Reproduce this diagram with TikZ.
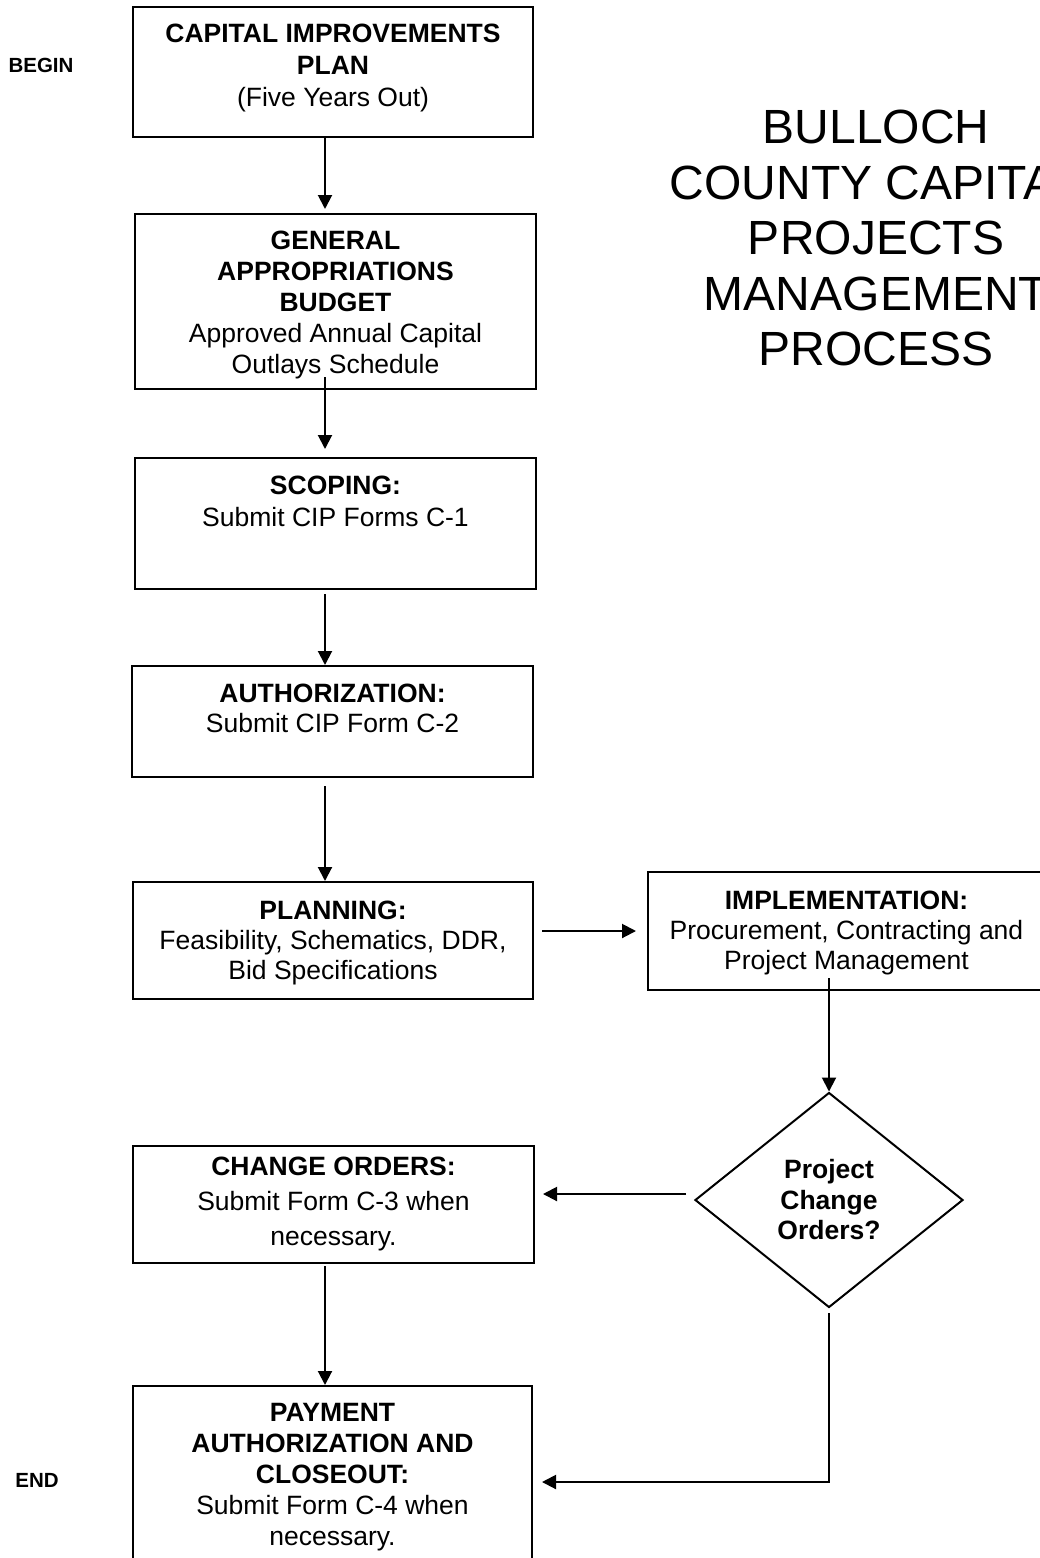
\documentclass[tikz,border=0pt]{standalone}
\usepackage{fontspec}
\setmainfont{Liberation Sans}
\usetikzlibrary{arrows.meta,shapes.geometric}
\newcommand\bodyfnt[1]{\fontsize{26.5}{#1}\selectfont}
\begin{document}
\begin{tikzpicture}[x=1pt,y=-1pt,
  box/.style={draw, line width=2pt, inner sep=0pt},
  txt/.style={align=center, inner sep=0pt, anchor=north},
  arr/.style={line width=2pt, -{Triangle[length=14pt,width=14pt]}},
  side/.style={font=\fontsize{20.5}{24}\selectfont\bfseries, inner sep=0pt}]
\useasboundingbox[fill=white] (0,0) rectangle (1039,1558);

% labels
\node[side] (begin) at (41,65) {BEGIN};
\node[side] (end) at (37,1480) {END};

% title
\node[txt, font=\fontsize{48}{55.5}\selectfont] (title) at (876,110)
  {BULLOCH\\COUNTY CAPITAL\\PROJECTS\\MANAGEMENT\\PROCESS};

% boxes
\node[box, minimum width=400pt, minimum height=130pt] (b1) at (333,72) {};
\node[box, minimum width=401pt, minimum height=175pt] (b2) at (335.5,301.5) {};
\node[box, minimum width=401pt, minimum height=131pt] (b3) at (335.5,523.5) {};
\node[box, minimum width=401pt, minimum height=111pt] (b4) at (332.5,721.5) {};
\node[box, minimum width=400pt, minimum height=117pt] (b5) at (333,940.5) {};
\node[box, minimum width=402pt, minimum height=118pt] (b6) at (849,931) {};
\node[box, minimum width=401pt, minimum height=117pt] (b7) at (333.5,1204.5) {};
\node[box, minimum width=399pt, minimum height=234pt] (b8) at (332.5,1503) {};
\node[box, diamond, minimum width=268pt, minimum height=215pt,
      font=\bodyfnt{30.5}\bfseries, align=center] (dia) at (829,1200)
  {Project\\Change\\Orders?};

% texts
\node[txt, font=\bodyfnt{32}] (t1) at (333,23.5)
  {\textbf{CAPITAL IMPROVEMENTS}\\\textbf{PLAN}\\(Five Years Out)};
\node[txt, font=\bodyfnt{31}] (t2) at (335.5,230.5)
  {\textbf{GENERAL}\\\textbf{APPROPRIATIONS}\\\textbf{BUDGET}\\Approved Annual Capital\\Outlays Schedule};
\node[txt, font=\bodyfnt{32}] (t3) at (335.5,475.5)
  {\textbf{SCOPING:}\\Submit CIP Forms C-1};
\node[txt, font=\bodyfnt{30.5}] (t4) at (332.5,683.5)
  {\textbf{AUTHORIZATION:}\\Submit CIP Form C-2};
\node[txt, font=\bodyfnt{30}] (t5) at (333,900.5)
  {\textbf{PLANNING:}\\Feasibility, Schematics, DDR,\\Bid Specifications};
\node[txt, font=\bodyfnt{30}] (t6) at (846.5,890.5)
  {\textbf{IMPLEMENTATION:}\\Procurement, Contracting and\\Project Management};
\node[txt, font=\bodyfnt{35}] (t7) at (333.5,1156.5)
  {\textbf{CHANGE ORDERS:}\\Submit Form C-3 when\\necessary.};
\node[txt, font=\bodyfnt{31}] (t8) at (332.5,1403.5)
  {\textbf{PAYMENT}\\\textbf{AUTHORIZATION AND}\\\textbf{CLOSEOUT:}\\Submit Form C-4 when\\necessary.};

% connector helper coordinates
\coordinate (col) at (325,0);
\coordinate (a2s) at (325,377);
\coordinate (a5y) at (0,931);
\coordinate (a6s) at (829,978);
\coordinate (a7s) at (686,1194);
\coordinate (a9s) at (829,1313);
\coordinate (a9c) at (829,1482);

% connectors
\draw[arr, shorten >=4pt] (b1.south -| col) -- (b2.north -| col);
\draw[arr, shorten >=8pt] (a2s) -- (b3.north -| col);
\draw[arr, shorten <=4pt] (b3.south -| col) -- (b4.north -| col);
\draw[arr, shorten <=8pt] (b4.south -| col) -- (b5.north -| col);
\draw[arr, shorten <=8pt, shorten >=11pt] (b5.east |- a5y) -- (b6.west |- a5y);
\draw[arr] (a6s) -- (dia.north);
\draw[arr, shorten >=8pt] (a7s) -- (b7.east |- a7s);
\draw[arr, shorten <=2pt] (b7.south -| col) -- (b8.north -| col);
\draw[arr, shorten >=9pt] (a9s) -- (a9c) -- (b8.east |- a9c);
\end{tikzpicture}
\end{document}
